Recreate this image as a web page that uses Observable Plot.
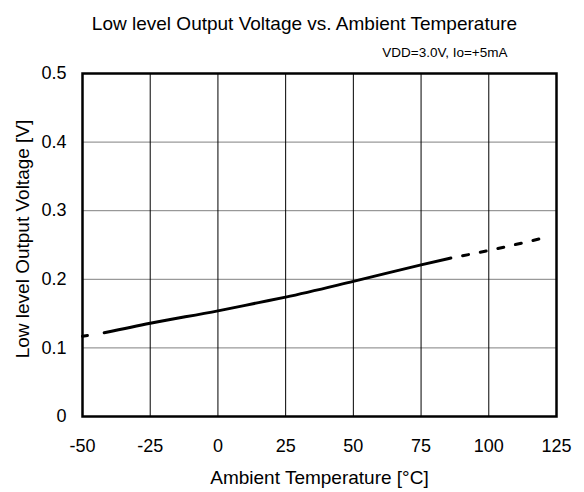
<!DOCTYPE html>
<html>
<head>
<meta charset="utf-8">
<script src="https://cdn.jsdelivr.net/npm/d3@7"></script>
<script src="https://cdn.jsdelivr.net/npm/@observablehq/plot@0.6"></script>
<style>
  html, body { margin: 0; padding: 0; background: #fff; }
</style>
</head>
<body>
<div id="chart"></div>
<script>
const titleText = "Low level Output Voltage vs. Ambient Temperature";
const conditionText = "VDD=3.0V, Io=+5mA";
const xLabel = "Ambient Temperature [°C]";
const yLabel = "Low level Output Voltage [V]";

const xTicks = [-50, -25, 0, 25, 50, 75, 100, 125];
const yTicks = [0, 0.1, 0.2, 0.3, 0.4, 0.5];

// measured (solid) range
const tempSolid = [-42, -25, 0, 15, 25, 50, 75, 86];
const voltSolid = [0.122, 0.136, 0.154, 0.166, 0.174, 0.197, 0.221, 0.231];
// extrapolated (dashed) ranges
const tempDashLow = [-50, -42];
const voltDashLow = [0.117, 0.122];
const tempDashHigh = [86, 100, 121];
const voltDashHigh = [0.231, 0.242, 0.261];

const zip = (xs, ys) => xs.map((x, i) => ({x, y: ys[i]}));
const solid = zip(tempSolid, voltSolid);
const dashLow = zip(tempDashLow, voltDashLow);
const dashHigh = zip(tempDashHigh, voltDashHigh);

const font = "'Liberation Sans', Arial, sans-serif";

const chart = Plot.plot({
  width: 584,
  height: 492,
  marginLeft: 82,
  marginRight: 28,
  marginTop: 73,
  marginBottom: 76,
  style: {fontFamily: font, fontSize: "18px", background: "#fff", color: "#000"},
  x: {domain: [-50, 125]},
  y: {domain: [0, 0.5]},
  marks: [
    Plot.ruleY(yTicks, {stroke: "#808080", strokeWidth: 1}),
    Plot.ruleX(xTicks, {stroke: "#000", strokeWidth: 1}),
    Plot.axisX({ticks: xTicks, tickSize: 0, tickPadding: 23, fontSize: 18, label: null, tickFormat: d => String(d)}),
    Plot.axisY({ticks: yTicks, tickSize: 0, tickPadding: 16, fontSize: 18, label: null, tickFormat: d => d === 0 ? "0" : d.toFixed(1)}),
    Plot.line(solid, {x: "x", y: "y", stroke: "#000", strokeWidth: 3, curve: "monotone-x"}),
    Plot.line(dashLow, {x: "x", y: "y", stroke: "#000", strokeWidth: 3, strokeDasharray: "5,30"}),
    Plot.line(dashHigh, {x: "x", y: "y", stroke: "#000", strokeWidth: 3, strokeDasharray: "6,12", strokeDashoffset: 6, curve: "monotone-x"}),
    Plot.frame({stroke: "#000", strokeWidth: 2.5}),
    Plot.text([titleText], {frameAnchor: "top", lineAnchor: "middle", dx: -15, dy: -50, fontSize: 19, fill: "#000"}),
    Plot.text([conditionText], {frameAnchor: "top-right", lineAnchor: "middle", textAnchor: "end", dx: -49, dy: -21, fontSize: 13.5, fill: "#000"}),
    Plot.text([xLabel], {frameAnchor: "bottom", lineAnchor: "middle", dy: 61, fontSize: 19, fill: "#000"}),
    Plot.text([yLabel], {frameAnchor: "left", textAnchor: "middle", lineAnchor: "middle", dx: -60, dy: -6, rotate: -90, fontSize: 19, fill: "#000"})
  ]
});
document.getElementById("chart").appendChild(chart);
</script>
</body>
</html>
